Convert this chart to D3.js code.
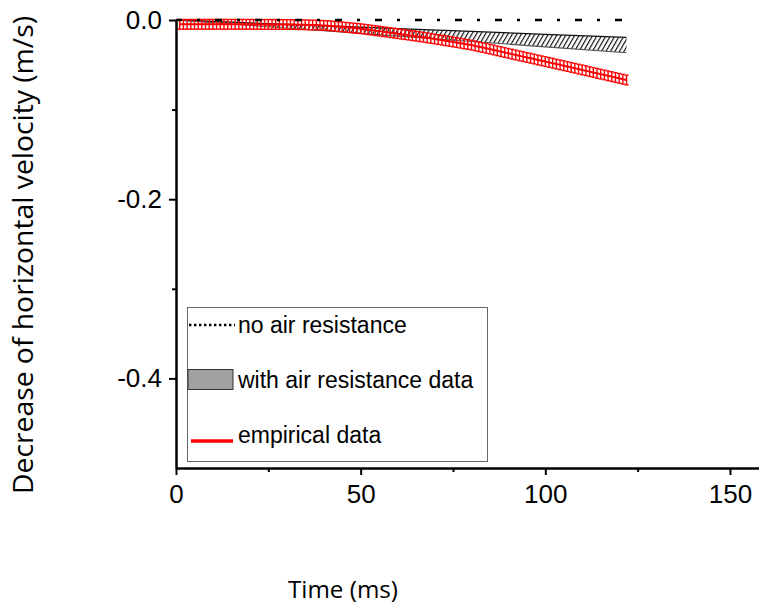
<!DOCTYPE html>
<html>
<head>
    <meta charset="utf-8">
    <title>Decrease of horizontal velocity</title>
    <style type="text/css">
        body{
            margin: 0;
            background-color: #fff;
        }
        .axis path, .axis line{
            stroke: #000;
        }
        .axis .domain{
            stroke-width: 2.5px;
        }
        .axis line{
            stroke-width: 2px;
        }
        .axis text{
            fill: #000;
            font-family: "Liberation Sans", Arial, sans-serif;
            font-size: 26px;
        }
        .axisTitle{
            fill: #000;
            font-family: "Open Sans", sans-serif;
        }
        .legendText{
            fill: #000;
            font-family: "Liberation Sans", Arial, sans-serif;
            font-size: 23px;
        }
    </style>
    <script type="text/javascript" src="https://cdn.jsdelivr.net/npm/d3@7"></script>
</head>
<body>

    <div id="chart"></div>

    <script type="text/javascript">
        // no air resistance: flat line at 0
        var noAirTime = [0, 122];
        var noAirValue = [0, 0];

        // with air resistance: band between two bounds
        var bandTime = [0, 20, 40, 60, 80, 100, 122];
        var bandUpper = [0, -0.0032, -0.0064, -0.0096, -0.0128, -0.0160, -0.0195];
        var bandLower = [0, -0.0060, -0.0120, -0.0180, -0.0240, -0.0300, -0.0365];

        // empirical data, one point per ms from 1 to 122
        var empiricalTime = d3.range(1, 123);
        var empiricalMean = [
            -0.0048, -0.0048, -0.0048, -0.0048, -0.0048, -0.0048, -0.0048, -0.0048, -0.0048, -0.0048,
            -0.0048, -0.0048, -0.0048, -0.0048, -0.0048, -0.0048, -0.0048, -0.0048, -0.0048, -0.0048,
            -0.0049, -0.0049, -0.0049, -0.0049, -0.0049, -0.0049, -0.0049, -0.0050, -0.0050, -0.0050,
            -0.0050, -0.0051, -0.0052, -0.0052, -0.0053, -0.0055, -0.0056, -0.0057, -0.0059, -0.0060,
            -0.0063, -0.0066, -0.0070, -0.0073, -0.0077, -0.0081, -0.0085, -0.0089, -0.0093, -0.0097,
            -0.0102, -0.0108, -0.0113, -0.0119, -0.0124, -0.0130, -0.0135, -0.0141, -0.0146, -0.0152,
            -0.0158, -0.0163, -0.0169, -0.0175, -0.0180, -0.0186, -0.0192, -0.0199, -0.0205, -0.0212,
            -0.0218, -0.0225, -0.0231, -0.0238, -0.0245, -0.0252, -0.0259, -0.0266, -0.0273, -0.0280,
            -0.0289, -0.0298, -0.0307, -0.0316, -0.0325, -0.0334, -0.0344, -0.0353, -0.0363, -0.0372,
            -0.0381, -0.0390, -0.0400, -0.0409, -0.0418, -0.0427, -0.0436, -0.0446, -0.0455, -0.0464,
            -0.0473, -0.0482, -0.0492, -0.0501, -0.0510, -0.0519, -0.0529, -0.0538, -0.0548, -0.0557,
            -0.0566, -0.0576, -0.0585, -0.0595, -0.0604, -0.0613, -0.0623, -0.0632, -0.0642, -0.0651,
            -0.0661, -0.0670
        ];
        var empiricalErr = 0.0054;

        var xMajorTicks = [0, 50, 100, 150];
        var xMinorTicks = [25, 75, 125];
        var yMajorTicks = [0, -0.2, -0.4];
        var yMinorTicks = [-0.1, -0.3];

        var legendLabels = ['no air resistance', 'with air resistance data', 'empirical data'];

        var width = 759, height = 611;
        var plotLeft = 176, plotRight = 759.5, plotTop = 20, plotBottom = 468;

        var svg = d3.select('#chart')
            .append('svg')
            .attr('width', width)
            .attr('height', height);

        var xScale = d3.scaleLinear()
            .domain([0, 158])
            .range([plotLeft, plotRight]);

        var yScale = d3.scaleLinear()
            .domain([-0.5, 0])
            .range([plotBottom, plotTop]);

        // hatch pattern for the air resistance band
        svg.append('defs').append('pattern')
            .attr('id', 'hatch')
            .attr('patternUnits', 'userSpaceOnUse')
            .attr('width', 3.9)
            .attr('height', 10)
            .attr('patternTransform', 'rotate(30)')
            .append('line')
            .attr('x1', 0.6).attr('y1', 0)
            .attr('x2', 0.6).attr('y2', 10)
            .attr('stroke', '#000')
            .attr('stroke-width', 1.1);

        var band = bandTime.map(function(t, i){
            return {t: t, hi: bandUpper[i], lo: bandLower[i]};
        });

        svg.append('path')
            .datum(band)
            .attr('fill', 'url(#hatch)')
            .attr('d', d3.area()
                .x(function(d){ return xScale(d.t); })
                .y0(function(d){ return yScale(d.lo); })
                .y1(function(d){ return yScale(d.hi); }));

        svg.append('path')
            .datum(band)
            .attr('fill', 'none')
            .attr('stroke', '#111')
            .attr('stroke-width', 1.3)
            .attr('d', d3.line()
                .x(function(d){ return xScale(d.t); })
                .y(function(d){ return yScale(d.hi); }));

        svg.append('path')
            .datum(band)
            .attr('fill', 'none')
            .attr('stroke', '#555')
            .attr('stroke-width', 1.1)
            .attr('d', d3.line()
                .x(function(d){ return xScale(d.t); })
                .y(function(d){ return yScale(d.lo); }));

        // empirical data with error bars
        var emp = empiricalTime.map(function(t, i){
            return {t: t, m: empiricalMean[i]};
        });

        var bars = svg.append('g')
            .attr('stroke', '#ff0000')
            .attr('stroke-width', 1.4);

        bars.selectAll('.bar')
            .data(emp)
            .enter()
            .append('line')
            .attr('class', 'bar')
            .attr('x1', function(d){ return xScale(d.t); })
            .attr('x2', function(d){ return xScale(d.t); })
            .attr('y1', function(d){ return yScale(d.m + empiricalErr); })
            .attr('y2', function(d){ return yScale(d.m - empiricalErr); });

        bars.selectAll('.capTop')
            .data(emp)
            .enter()
            .append('line')
            .attr('class', 'capTop')
            .attr('x1', function(d){ return xScale(d.t) - 2; })
            .attr('x2', function(d){ return xScale(d.t) + 2; })
            .attr('y1', function(d){ return yScale(d.m + empiricalErr); })
            .attr('y2', function(d){ return yScale(d.m + empiricalErr); });

        bars.selectAll('.capBottom')
            .data(emp)
            .enter()
            .append('line')
            .attr('class', 'capBottom')
            .attr('x1', function(d){ return xScale(d.t) - 2; })
            .attr('x2', function(d){ return xScale(d.t) + 2; })
            .attr('y1', function(d){ return yScale(d.m - empiricalErr); })
            .attr('y2', function(d){ return yScale(d.m - empiricalErr); });

        svg.append('path')
            .datum(emp)
            .attr('fill', 'none')
            .attr('stroke', '#ff0000')
            .attr('stroke-width', 2)
            .attr('d', d3.line()
                .x(function(d){ return xScale(d.t); })
                .y(function(d){ return yScale(d.m); }));

        // no air resistance line
        svg.append('path')
            .datum(noAirTime.map(function(t, i){ return {t: t, v: noAirValue[i]}; }))
            .attr('fill', 'none')
            .attr('stroke', '#000')
            .attr('stroke-width', 2.6)
            .attr('stroke-dasharray', '3,15,7,15')
            .attr('stroke-dashoffset', 19)
            .attr('d', d3.line()
                .x(function(d){ return xScale(d.t); })
                .y(function(d){ return yScale(d.v); }));

        // axes
        var xAxisG = svg.append('g')
            .attr('class', 'axis')
            .attr('transform', 'translate(0,' + plotBottom + ')');
        xAxisG.call(d3.axisBottom(xScale)
            .tickValues(xMajorTicks)
            .tickSize(7)
            .tickSizeOuter(0)
            .tickPadding(10)
            .tickFormat(d3.format('d')));
        xAxisG.append('g').call(d3.axisBottom(xScale)
            .tickValues(xMinorTicks)
            .tickSize(4)
            .tickFormat(''))
            .select('.domain').remove();

        var yAxisG = svg.append('g')
            .attr('class', 'axis')
            .attr('transform', 'translate(' + plotLeft + ',0)');
        yAxisG.call(d3.axisLeft(yScale)
            .tickValues(yMajorTicks)
            .tickSize(7)
            .tickSizeOuter(0)
            .tickPadding(7)
            .tickFormat(function(d){ return d.toFixed(1); }));
        yAxisG.append('g').call(d3.axisLeft(yScale)
            .tickValues(yMinorTicks)
            .tickSize(4)
            .tickFormat(''))
            .select('.domain').remove();

        svg.append('text')
            .attr('class', 'axisTitle')
            .attr('x', 343)
            .attr('y', 598)
            .attr('text-anchor', 'middle')
            .attr('font-size', '24px')
            .attr('textLength', 110)
            .attr('lengthAdjust', 'spacingAndGlyphs')
            .text('Time (ms)');

        svg.append('text')
            .attr('class', 'axisTitle')
            .attr('transform', 'translate(33,255) rotate(-90)')
            .attr('text-anchor', 'middle')
            .attr('font-size', '27px')
            .attr('textLength', 478)
            .attr('lengthAdjust', 'spacingAndGlyphs')
            .text('Decrease of horizontal velocity (m/s)');

        // legend
        var legend = svg.append('g');

        legend.append('rect')
            .attr('x', 187.5).attr('y', 307.5)
            .attr('width', 300).attr('height', 154)
            .attr('fill', '#fff')
            .attr('stroke', '#666')
            .attr('stroke-width', 1);

        legend.append('line')
            .attr('x1', 189).attr('x2', 235)
            .attr('y1', 325).attr('y2', 325)
            .attr('stroke', '#000')
            .attr('stroke-width', 2.6)
            .attr('stroke-dasharray', '2.4,2.6');

        legend.append('rect')
            .attr('x', 188).attr('y', 369.5)
            .attr('width', 45).attr('height', 20)
            .attr('fill', '#a0a0a0')
            .attr('stroke', '#333')
            .attr('stroke-width', 1);

        legend.append('line')
            .attr('x1', 191).attr('x2', 233)
            .attr('y1', 441).attr('y2', 441)
            .attr('stroke', '#ff0000')
            .attr('stroke-width', 3.5);

        legend.selectAll('.legendText')
            .data(legendLabels)
            .enter()
            .append('text')
            .attr('class', 'legendText')
            .attr('x', 238)
            .attr('y', function(d, i){ return [333, 388, 443][i]; })
            .text(function(d){ return d; });
    </script>

</body>
</html>
